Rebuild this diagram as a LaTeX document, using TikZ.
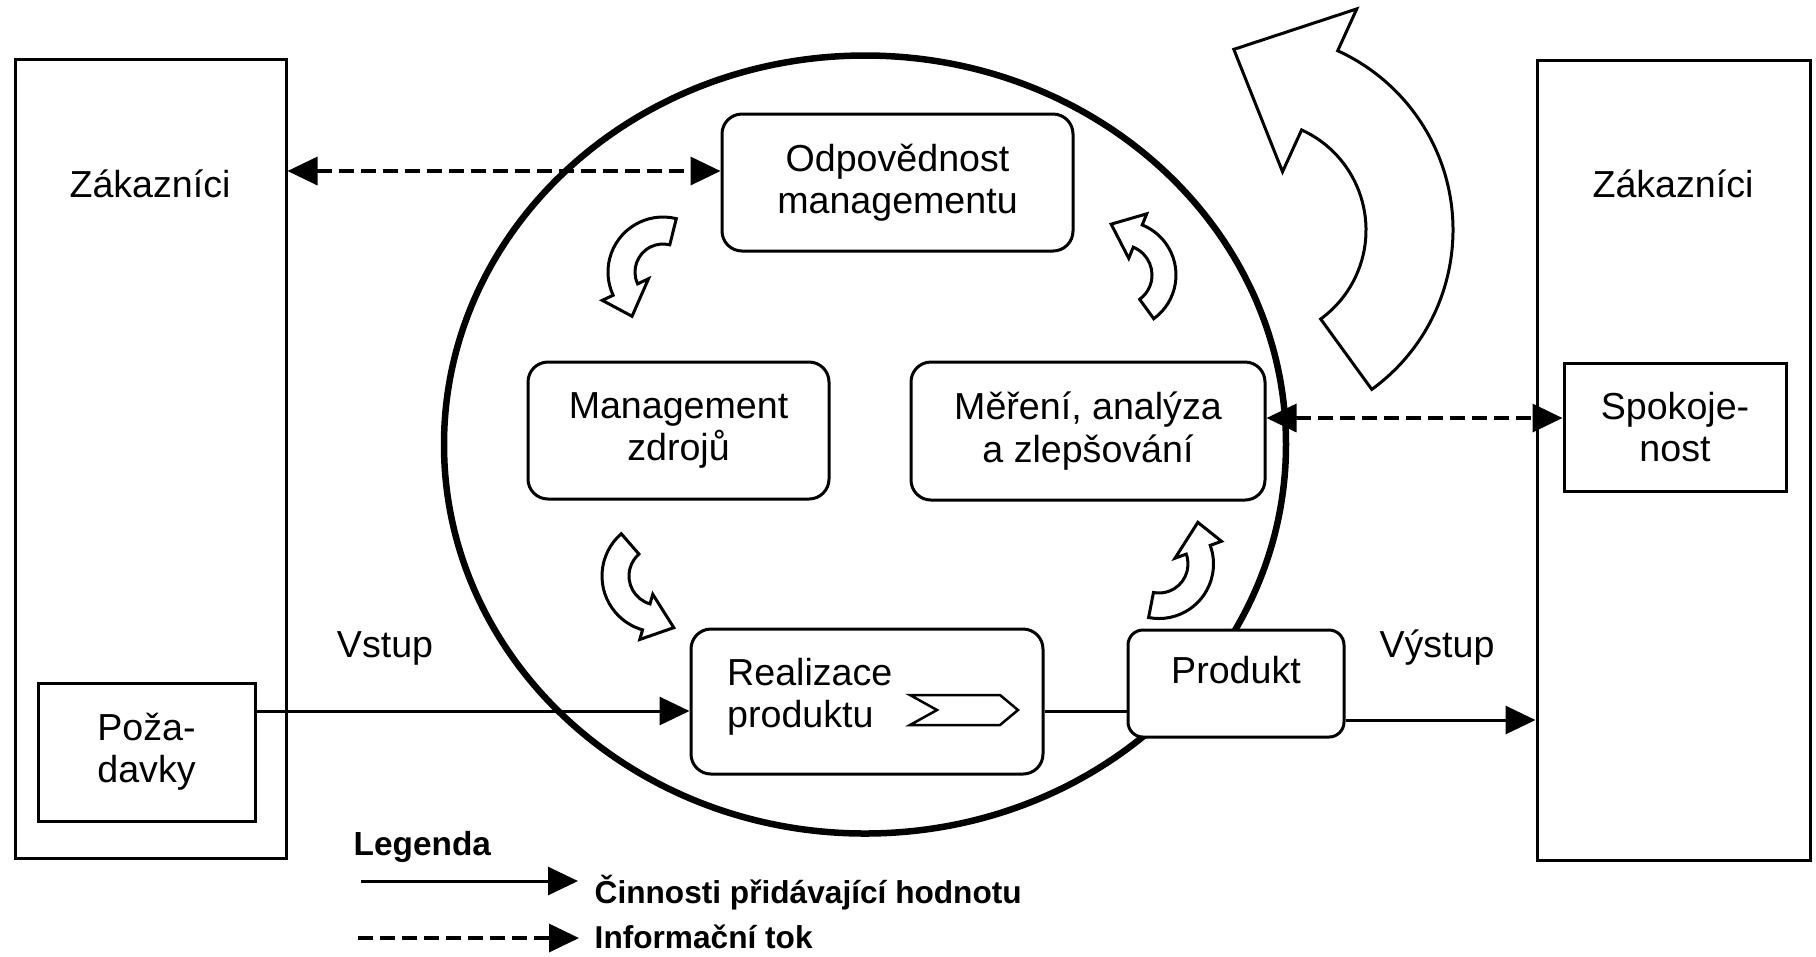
\documentclass[tikz,border=0pt]{standalone}
\usepackage{fontspec}
\setmainfont{Liberation Sans}
\usetikzlibrary{arrows.meta}

\tikzstyle{box}=[
	draw=black,
	line width=0.3mm,
	fill=white,
	inner sep=0pt,
	align=center
]
\tikzstyle{rbox}=[box, rounded corners=2mm]
\tikzstyle{txt}=[inner sep=0pt, align=center]
\tikzstyle{flow}=[line width=0.3mm]
\tikzstyle{info}=[line width=0.35mm, dash pattern=on 1.5mm off 0.7mm]
\tikzstyle{bent}=[draw=black, line width=0.3mm, fill=white, line join=miter]
\tikzstyle{legtxt}=[txt, anchor=base west, font=\fontsize{9}{11}\selectfont\bfseries]

% curved block arrow: centre, inner r, outer r, tail angle, head angle, barb, tip angle, tip r
\newcommand{\bentarrow}[8]{%
	\draw[bent,shift={#1}] (#4:#3) arc[start angle=#4, end angle=#5, radius=#3]
		-- (#5:{#3+#6}) -- (#7:#8) -- (#5:{#2-#6}) -- (#5:#2)
		arc[start angle=#5, end angle=#4, radius=#2] -- cycle;
}

\begin{document}
\begin{tikzpicture}[x=0.1mm,y=-0.1mm,>={Triangle[length=3mm,width=2.8mm]},font=\fontsize{10.7}{12}\selectfont]

\useasboundingbox (0,0) rectangle (1816,956);

% Customers left
\node[box, minimum width=27.1mm, minimum height=79.9mm] (lcust) at (150.5,458.5){};
\node[txt, anchor=base] (lcusttxt) at (150,197){Zákazníci};

% Customers right
\node[box, minimum width=27.3mm, minimum height=80mm] (rcust) at (1673.5,460){};
\node[txt, anchor=base] (rcusttxt) at (1673,197){Zákazníci};

% Requirements
\node[box, minimum width=21.7mm, minimum height=13.8mm] (pozad) at (146.5,752){Poža-\\davky};

% Satisfaction
\node[box, minimum width=22.2mm, minimum height=12.8mm] (spok) at (1675,427){Spokoje-\\nost};

% The big circle
\draw[line width=0.65mm] (865,444.5) ellipse[x radius=421, y radius=389];

% Management responsibility
\node[rbox, minimum width=35.1mm, minimum height=13.7mm] (odp) at (897.5,182.5){Odpovědnost\\managementu};

% Resource management
\node[rbox, minimum width=30.1mm, minimum height=13.7mm] (mgmt) at (678.5,430.5){Management\\zdrojů};

% Measurement, analysis
\node[rbox, minimum width=35.4mm, minimum height=13.8mm] (mer) at (1088,431){Měření, analýza\\a zlepšování};

% Product realization
\node[rbox, minimum width=35.2mm, minimum height=14.5mm] (real) at (867,701.5){};
\node[txt, align=left, anchor=west] (realtxt) at ([xshift=3.7mm,yshift=0.45mm]real.west){Realizace\\produktu};
\draw[line width=0.25mm, line join=miter] (910,695) -- (1000,695) -- (1018,710) -- (1000,725) -- (910,725) -- (937,710) -- cycle;

% Product
\node[rbox, rounded corners=1.5mm, minimum width=21.6mm, minimum height=10.7mm] (prod) at (1236,683.5){};
\node[txt] (prodtxt) at ([yshift=1.35mm]prod.center){Produkt};

% Information flows
\path ([yshift=1.15mm]odp.west) coordinate (odpin);
\draw[info, <->] (lcust.east |- odpin) -- (odpin);
\path ([yshift=0.9mm]spok.west) coordinate (spokin);
\draw[info, <->] (mer.east |- spokin) -- (spokin);

% Value adding flow
\path ([yshift=-0.95mm]real.west) coordinate (realin);
\draw[flow, ->] (pozad.east |- realin) -- (realin);
\draw[flow] (real.east |- realin) -- (prod.west |- realin);
\path ([yshift=-3.65mm]prod.east) coordinate (prodout);
\draw[flow, ->] (prodout) -- (rcust.west |- prodout);

% Input and output
\node[txt, anchor=base] (vstup) at (385,657){Vstup};
\node[txt, anchor=base] (vystup) at (1437,657){Výstup};

% Cycle arrows
\bentarrow{(663,272)}{28}{55}{-76}{-205}{12}{-235}{54}
\bentarrow{(658,576)}{29}{56}{229}{106}{10}{73}{54}
\bentarrow{(1159,564)}{29}{54.5}{101}{-20}{12}{-47}{57}
\bentarrow{(1122,275)}{30}{54}{54}{-68}{12}{-102}{52}

% Continual improvement
\bentarrow{(1256,230)}{110}{197}{54}{-65.5}{46}{-97}{182}

% Legend
\node[legtxt, font=\fontsize{9.5}{11}\selectfont\bfseries] (leg) at (353,855){Legenda};
\node[legtxt] (legact) at (594,903){Činnosti přidávající hodnotu};
\node[legtxt] (leginf) at (594,948){Informační tok};
\coordinate (lg1) at (361,881);
\coordinate (lg2) at (358,938);
\draw[flow, ->, shorten >=1.6mm] (lg1) -- (lg1 -| legact.west);
\draw[info, ->, shorten >=1.5mm] (lg2) -- (lg2 -| leginf.west);

\end{tikzpicture}
\end{document}
